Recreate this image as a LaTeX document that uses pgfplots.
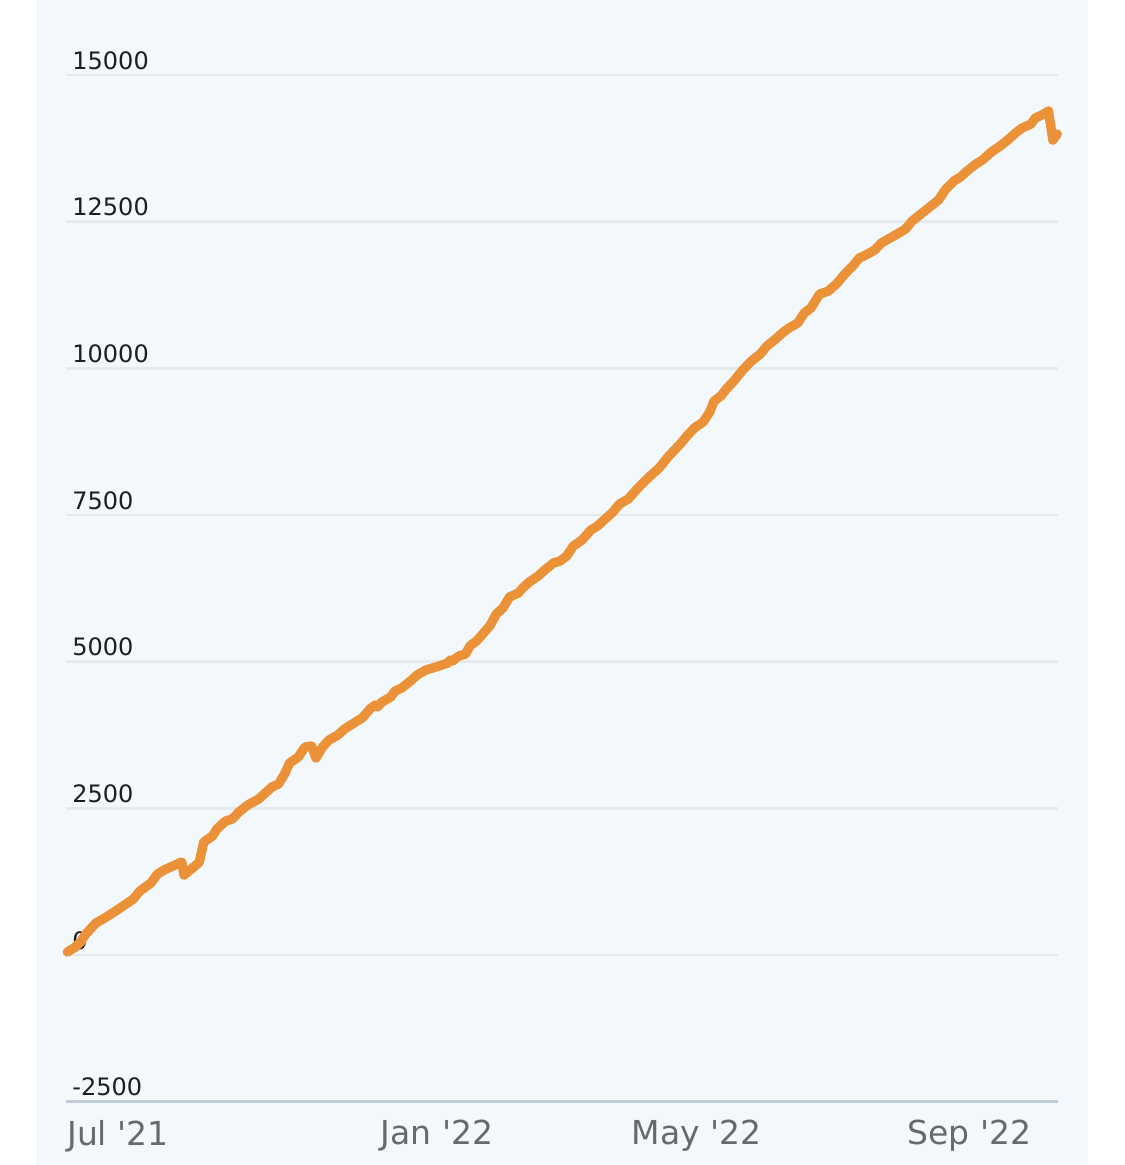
\documentclass[border=0pt]{standalone}
\usepackage{pgfplots}
\pgfplotsset{compat=1.18}
\usepackage{fontspec}
\setmainfont{DejaVu Sans}
\definecolor{bgblue}{RGB}{243,248,252}
\definecolor{gridc}{RGB}{230,234,238}
\definecolor{axc}{RGB}{194,206,220}
\definecolor{lineo}{RGB}{235,145,55}
\definecolor{ylab}{RGB}{30,30,30}
\definecolor{xlab}{RGB}{105,105,105}
\pgfplotsset{layers/mine/.define layer set={axis background,axis grid,axis ticks,pre main,main,axis lines,axis tick labels,axis descriptions,axis foreground}{}}
\begin{document}
\begin{tikzpicture}
\begin{axis}[
  set layers=mine,
  at={(33pt,31.65pt)}, anchor=south west,
  scale only axis,
  width=496pt, height=542.7pt,
  xmin=-168.6, xmax=282.3,
  ymin=-2500, ymax=16000,
  scaled y ticks=false, scaled x ticks=false,
  clip=false,
  axis x line*=bottom, axis y line*=left,
  axis line style={-, draw=axc, line width=1.3pt},
  y axis line style={draw=none},
  ytick={-2500,0,2500,5000,7500,10000,12500,15000},
  yticklabels={-2500,0,2500,5000,7500,10000,12500,15000},
  ytick style={draw=none},
  major tick length=0pt,
  yticklabel style={anchor=south west, inner sep=0pt, xshift=3pt, yshift=2.5pt, font=\fontsize{12}{14}\selectfont, text=ylab},
  ymajorgrids,
  grid style={draw=gridc, line width=1.2pt},
  xtick={0,118,242},
  xticklabels={Jan \textquotesingle22,May \textquotesingle22,Sep \textquotesingle22},
  extra x ticks={-150},
  extra x tick labels={Jul \textquotesingle21},
  extra x tick style={xticklabel style={xshift=5.5pt}, grid=none},
  x tick style={draw=axc, line width=1.3pt},
  xtick align=outside,
  xticklabel style={anchor=north, inner sep=0pt, yshift=-9pt, font=\fontsize{16.5}{19}\selectfont, text=xlab},
]
\pgfplotsextra{%
\begin{pgfonlayer}{axis background}
\fill[white] (rel axis cs:-0.0666,-0.0584) rectangle (rel axis cs:1.0676,1.0151);
\fill[bgblue] (rel axis cs:-0.0302,-0.0584) rectangle (rel axis cs:1.0302,1.0151);
\end{pgfonlayer}}
\addplot[draw=lineo, line width=4.7pt, line join=round, line cap=round] coordinates {
(-168,51) (-165,119) (-162,220) (-160,340) (-155,545) (-151,631) (-146,750)
(-142,852) (-138,955) (-135,1091) (-130,1227) (-127,1381) (-124,1449)
(-119,1534) (-116,1585) (-115,1364) (-111,1483) (-108,1585) (-106,1926)
(-102,2028) (-100,2148) (-96,2284) (-93,2318) (-90,2437) (-86,2557)
(-81,2659) (-78,2761) (-75,2864) (-72,2915) (-69,3102) (-67,3273)
(-63,3375) (-60,3545) (-57,3562) (-55,3358) (-52,3545) (-49,3665)
(-45,3750) (-42,3852) (-37,3971) (-34,4040) (-30,4210) (-28,4261)
(-27,4227) (-25,4312) (-21,4398) (-19,4500) (-16,4551) (-12,4670)
(-9,4773) (-5,4858) (-2,4892) (1,4926) (5,4977) (6,5028) (7,5011)
(10,5096) (13,5131) (15,5267) (18,5352) (22,5523) (24,5608) (27,5812)
(30,5915) (33,6102) (37,6170) (39,6256) (42,6358) (46,6460) (49,6562)
(53,6682) (56,6716) (59,6801) (62,6971) (66,7074) (70,7244) (73,7312)
(76,7415) (80,7551) (83,7687) (87,7773) (91,7943) (95,8096) (98,8199)
(101,8301) (105,8488) (108,8608) (111,8727) (114,8863) (117,8983)
(121,9085) (124,9255) (126,9443) (129,9528) (132,9665) (135,9784)
(139,9971) (143,10125) (147,10244) (150,10380) (154,10500) (157,10602)
(160,10687) (164,10772) (167,10943) (170,11028) (174,11267) (178,11318)
(182,11454) (185,11591) (189,11744) (192,11880) (195,11932) (199,12017)
(202,12136) (206,12221) (210,12306) (213,12375) (216,12511) (220,12630)
(224,12750) (228,12869) (231,13039) (235,13193) (238,13261) (241,13363)
(245,13483) (248,13551) (252,13687) (256,13789) (260,13909) (263,14011)
(266,14096) (270,14164) (272,14267) (275,14318) (278,14386) (280,13892)
(282,13994)
};
\end{axis}
\end{tikzpicture}
\end{document}
